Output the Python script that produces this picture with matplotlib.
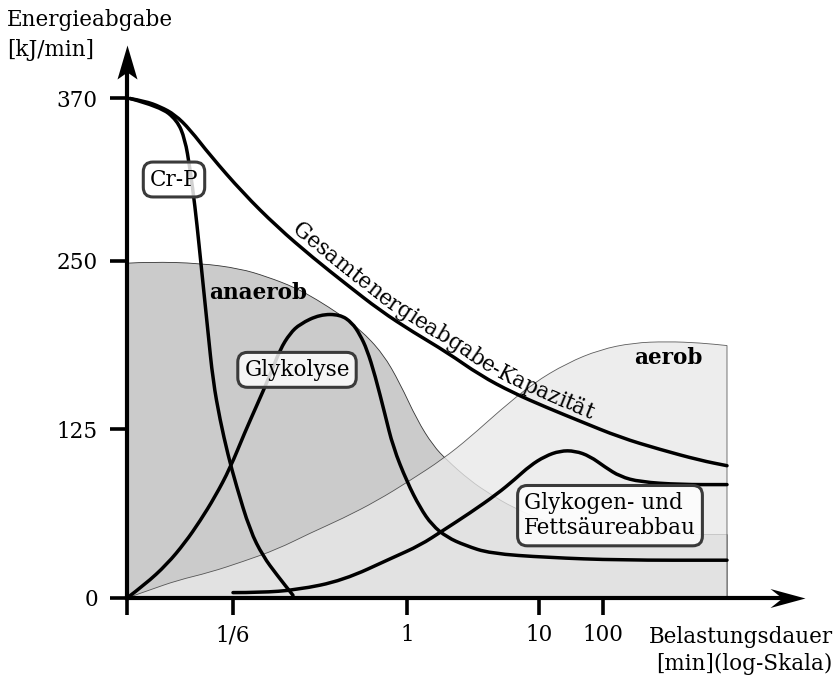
import numpy as np
import matplotlib
matplotlib.use("Agg")
import matplotlib.pyplot as plt
from matplotlib.path import Path
from matplotlib.patches import PathPatch
from matplotlib.font_manager import FontProperties

plt.rcParams['font.family'] = 'DejaVu Serif'
plt.rcParams['font.size'] = 15.5

# x: Position auf der (schematischen) log-Achse, y: Energieabgabe in kJ/min
gesamt_x = [0.03, 0.18, 0.33, 0.48, 0.63, 0.83, 1.16, 1.50, 1.86, 2.20, 2.53, 2.86,
            3.20, 3.53, 3.86, 4.20, 4.53, 4.93, 5.33, 5.73, 6.00]
gesamt_y = [370, 368, 364, 358, 347, 328, 300, 275, 252, 232, 213, 197,
            182, 165, 152, 141, 131, 119, 110, 102, 98]

crp_x = [0.03, 0.33, 0.50, 0.58, 0.63, 0.68, 0.72, 0.76, 0.81, 0.86, 0.93, 1.01,
         1.09, 1.23, 1.36, 1.50, 1.66]
crp_y = [370, 364, 354, 340, 318, 290, 262, 233, 197, 161, 132, 106,
         84, 50, 31, 17, 2]

glykolyse_x = [0.00, 0.18, 0.40, 0.58, 0.73, 0.88, 1.03, 1.18, 1.30, 1.43, 1.53, 1.63,
               1.73, 1.93, 2.13, 2.25, 2.33, 2.40, 2.48, 2.58, 2.66, 2.80, 2.93, 3.05,
               3.20, 3.38, 3.63, 4.20, 4.93, 6.00]
glykolyse_y = [0, 10, 25, 41, 57, 75, 96, 123, 143, 165, 184, 196,
               203, 210, 210, 204, 195, 184, 165, 136, 112, 86, 67, 54,
               45, 39, 33, 30, 28, 28]

glykogen_x = [1.06, 1.33, 1.70, 2.16, 2.66, 2.93, 3.16, 3.43, 3.70, 3.88, 4.03, 4.18,
              4.33, 4.48, 4.63, 4.78, 4.93, 5.13, 5.53, 6.00]
glykogen_y = [4, 4, 6, 13, 30, 39, 50, 63, 77, 88, 98, 105,
              109, 109, 105, 97, 90, 86, 84, 84]

anaerob_x = [0.00, 0.23, 0.73, 1.13, 1.40, 1.68, 1.90, 2.13, 2.33, 2.56, 2.73, 2.90,
             3.06, 3.20, 3.43, 3.63, 3.86, 4.20, 4.53, 4.86, 6.00]
anaerob_y = [248, 249, 248, 244, 238, 230, 221, 210, 199, 181, 159, 132,
             113, 102, 87, 77, 67, 56, 49, 47, 47]

aerob_x = [0.00, 0.23, 0.50, 0.83, 1.16, 1.50, 1.83, 2.16, 2.50, 2.83, 3.16, 3.43,
           3.73, 4.06, 4.40, 4.73, 5.06, 5.40, 5.73, 6.00]
aerob_y = [0, 6, 13, 19, 27, 36, 48, 59, 72, 87, 103, 119,
           139, 159, 174, 184, 189, 190, 189, 187]

y_ticks = [0, 125, 250, 370]
x_ticks = [0, 1.06, 2.80, 4.12, 4.76]
x_ticklabels = ['', '1/6', '1', '10', '100']


def smooth_verts(x, y):
    # quadratische Bezier-Stücke durch die Mittelpunkte der Stützpunkte
    p = list(zip(x, y))
    verts, codes = [p[0]], [Path.MOVETO]
    for i in range(1, len(p) - 1):
        mid = ((p[i][0] + p[i + 1][0]) / 2, (p[i][1] + p[i + 1][1]) / 2)
        verts += [p[i], mid]
        codes += [Path.CURVE3, Path.CURVE3]
    verts.append(p[-1])
    codes.append(Path.LINETO)
    return verts, codes


def curve(ax, x, y, **kw):
    verts, codes = smooth_verts(x, y)
    ax.add_patch(PathPatch(Path(verts, codes), fill=False, transform=ax.transData,
                           capstyle='round', joinstyle='round', **kw))


def area(ax, x, y, **kw):
    verts, codes = smooth_verts(x, y)
    verts += [(x[-1], 0), (x[0], 0), (x[0], y[0])]
    codes += [Path.LINETO, Path.LINETO, Path.CLOSEPOLY]
    ax.add_patch(PathPatch(Path(verts, codes), transform=ax.transData, **kw))


W, H = 836, 678
fig = plt.figure(figsize=(W / 100, H / 100), dpi=100)
ax = fig.add_axes([127 / W, (H - 598) / H, (805 - 127) / W, (598 - 45) / H])
ax.set_xlim(0, 6.78)
ax.set_ylim(0, 553 / 1.35)

# Flächen
area(ax, anaerob_x, anaerob_y, facecolor='#cbcbcb', edgecolor='#333333', lw=0.6, zorder=1)
area(ax, aerob_x, aerob_y, facecolor='#e9e9e9', edgecolor='#333333', lw=0.6,
     alpha=0.79, zorder=2)

kw = dict(edgecolor='black', lw=2.5, zorder=3)
curve(ax, gesamt_x, gesamt_y, **kw)
curve(ax, crp_x, crp_y, **kw)
curve(ax, glykolyse_x, glykolyse_y, **kw)
curve(ax, glykogen_x, glykogen_y, **kw)

# Achsen
for side in ['top', 'right']:
    ax.spines[side].set_visible(False)
ax.spines['left'].set_linewidth(3)
ax.spines['bottom'].set_linewidth(3)
ax.spines['left'].set_bounds(0, 553 / 1.35 - 15)
ax.spines['bottom'].set_bounds(0, 6.6)
ax.set_yticks(y_ticks)
ax.set_yticklabels([str(v) for v in y_ticks])
ax.set_xticks(x_ticks)
ax.set_xticklabels(x_ticklabels)
ax.tick_params(direction='out', length=12, width=2.6, labelsize=15.5)
ax.tick_params(axis='y', pad=9)
ax.tick_params(axis='x', pad=7)

head_x = Path([(0, 0), (-35, -9.5), (-23, 0), (-35, 9.5), (0, 0)],
              [Path.MOVETO, Path.LINETO, Path.LINETO, Path.LINETO, Path.CLOSEPOLY])
head_y = Path([(0, 0), (-10, -34), (0, -27), (10, -34), (0, 0)],
              [Path.MOVETO, Path.LINETO, Path.LINETO, Path.LINETO, Path.CLOSEPOLY])
ax.plot([6.78], [0], marker=head_x, markersize=50.4, color='black', mew=0,
        clip_on=False, zorder=6)
ax.plot([0], [553 / 1.35], marker=head_y, markersize=49, color='black', mew=0,
        clip_on=False, zorder=6)

# Beschriftungen
box = dict(boxstyle='round,pad=0.3,rounding_size=0.45', fc=(1, 1, 1, 0.82),
           ec='#3a3a3a', lw=2.2)
ax.text(0.47, 310, 'Cr-P', ha='center', va='center', bbox=box, zorder=5)
ax.text(1.70, 169, 'Glykolyse', ha='center', va='center', bbox=box, zorder=5)
ax.text(4.83, 61, 'Glykogen- und\nFettsäureabbau', ha='center', va='center',
        multialignment='left', linespacing=1.2, bbox=box, zorder=5)
ax.text(1.31, 226, 'anaerob', ha='center', va='center', fontweight='bold', zorder=5)
ax.text(5.41, 178, 'aerob', ha='center', va='center', fontweight='bold', zorder=5)

fig.text(7 / W, 1 - 20 / H, 'Energieabgabe', ha='left', va='center')
fig.text(7 / W, 1 - 50 / H, '[kJ/min]', ha='left', va='center')
fig.text(833 / W, 1 - 637 / H, 'Belastungsdauer', ha='right', va='center')
fig.text(833 / W, 1 - 664 / H, '[min](log-Skala)', ha='right', va='center')

# Text entlang der Gesamtkurve
label = 'Gesamtenergieabgabe-Kapazität'
fig.canvas.draw()
renderer = fig.canvas.get_renderer()
prop = FontProperties(family='DejaVu Serif', size=15.5)
pts = ax.transData.transform(np.column_stack([gesamt_x, gesamt_y]))
seg = np.diff(pts, axis=0)
cum = np.concatenate([[0], np.cumsum(np.hypot(seg[:, 0], seg[:, 1]))])


def point_at(s):
    return np.array([np.interp(s, cum, pts[:, 0]), np.interp(s, cum, pts[:, 1])])


s = np.interp(ax.transData.transform((1.60, 0))[0], pts[:, 0], cum)
offset = 6
inv = fig.transFigure.inverted()
for ch in label:
    w, h, d = renderer.get_text_width_height_descent(ch, prop, ismath=False)
    p0, p1 = point_at(s), point_at(s + w)
    ang = np.arctan2(p1[1] - p0[1], p1[0] - p0[0])
    normal = np.array([-np.sin(ang), np.cos(ang)])
    c = (p0 + p1) / 2 + normal * offset
    fx, fy = inv.transform(c)
    fig.text(fx, fy, ch, fontproperties=prop, rotation=np.degrees(ang),
             rotation_mode='anchor', ha='center', va='baseline')
    s += w

fig.savefig('out.png', dpi=100)
